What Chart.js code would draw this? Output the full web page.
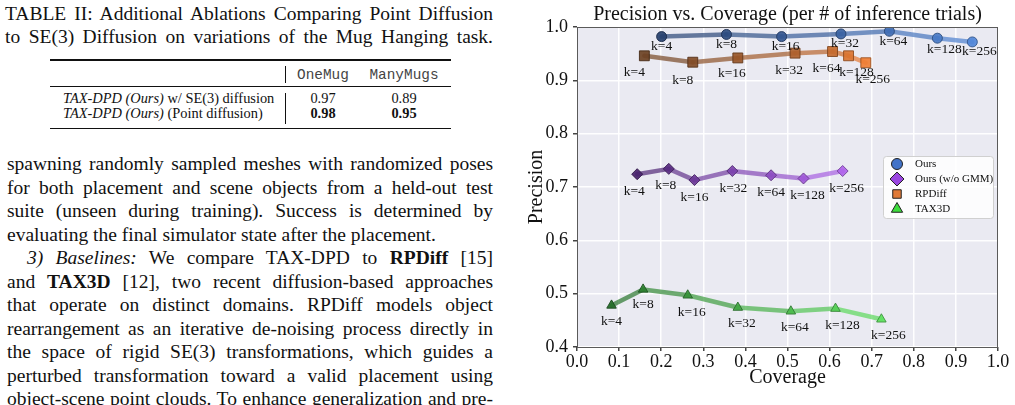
<!DOCTYPE html>
<html>
<head>
<meta charset="utf-8">
<script src="https://cdn.jsdelivr.net/npm/chart.js@4.4.1/dist/chart.umd.min.js"></script>
<style>
    html, body { margin: 0; padding: 0; background: #fff; }
    body { width: 1015px; height: 405px; overflow: hidden; position: relative;
           font-family: "Liberation Serif", "Times New Roman", serif; color: #111; }
    .abs { position: absolute; }
    .jl { text-align: justify; text-align-last: justify; white-space: nowrap; }
    .rule { position: absolute; background: #111; }
    .mono { font-family: "Liberation Mono", monospace; font-size: 14px; line-height: 16px; color: #444; }
    .cell { position: absolute; width: 80px; text-align: center; font-size: 14.4px; line-height: 16px; }
    .row { position: absolute; left: 63px; font-size: 14.4px; line-height: 16px; white-space: nowrap; }
    #prChart { position: absolute; left: 520px; top: 0; }
</style>
</head>
<body>

<div class="abs" style="left:5px; top:1.9px; width:488px; font-size:19.5px; line-height:23px;">
    <div class="jl">TABLE II: Additional Ablations Comparing Point Diffusion</div>
    <div class="jl">to SE(3) Diffusion on variations of the Mug Hanging task.</div>
</div>

<!-- table -->
<div class="rule" style="left:50px; top:59px; width:401px; height:1.5px;"></div>
<div class="rule" style="left:285px; top:66px; width:1px; height:17px;"></div>
<div class="cell mono" style="left:283px; top:67px;">OneMug</div>
<div class="cell mono" style="left:364px; top:67px;">ManyMugs</div>
<div class="rule" style="left:50px; top:85.5px; width:401px; height:1px;"></div>
<div class="rule" style="left:285px; top:93px; width:1px; height:31px;"></div>
<div class="row" style="top:90.4px;"><i>TAX-DPD (Ours)</i> w/ SE(3) diffusion</div>
<div class="cell" style="left:283px; top:90.4px;">0.97</div>
<div class="cell" style="left:364px; top:90.4px;">0.89</div>
<div class="row" style="top:105.4px;"><i>TAX-DPD (Ours)</i> (Point diffusion)</div>
<div class="cell" style="left:283px; top:105.4px;"><b>0.98</b></div>
<div class="cell" style="left:364px; top:105.4px;"><b>0.95</b></div>
<div class="rule" style="left:50px; top:127.5px; width:401px; height:1.5px;"></div>

<div class="abs" style="left:7px; top:152.4px; width:486px; font-size:19.5px; line-height:23.5px;">
    <div class="jl">spawning randomly sampled meshes with randomized poses</div>
    <div class="jl">for both placement and scene objects from a held-out test</div>
    <div class="jl">suite (unseen during training). Success is determined by</div>
    <div>evaluating the final simulator state after the placement.</div>
    <div class="jl" style="padding-left:20px;"><i>3) Baselines:</i> We compare TAX-DPD to <b>RPDiff</b> [15]</div>
    <div class="jl">and <b>TAX3D</b> [12], two recent diffusion-based approaches</div>
    <div class="jl">that operate on distinct domains. RPDiff models object</div>
    <div class="jl">rearrangement as an iterative de-noising process directly in</div>
    <div class="jl">the space of rigid SE(3) transformations, which guides a</div>
    <div class="jl">perturbed transformation toward a valid placement using</div>
    <div class="jl">object-scene point clouds. To enhance generalization and pre-</div>
</div>

<canvas id="prChart" width="495" height="405"></canvas>

<script>
// k = number of inference trials for each point
const kValues = [4, 8, 16, 32, 64, 128, 256];

const oursCoverage    = [0.201, 0.355, 0.486, 0.627, 0.742, 0.856, 0.939];
const oursPrecision   = [0.982, 0.986, 0.982, 0.987, 0.992, 0.979, 0.972];
const gmmCoverage     = [0.143, 0.218, 0.279, 0.369, 0.461, 0.538, 0.631];
const gmmPrecision    = [0.724, 0.734, 0.713, 0.730, 0.722, 0.716, 0.730];
const rpdiffCoverage  = [0.160, 0.275, 0.382, 0.518, 0.607, 0.645, 0.686];
const rpdiffPrecision = [0.946, 0.934, 0.942, 0.951, 0.954, 0.946, 0.933];
const tax3dCoverage   = [0.082, 0.157, 0.263, 0.382, 0.508, 0.614, 0.723];
const tax3dPrecision  = [0.478, 0.508, 0.497, 0.474, 0.467, 0.472, 0.452];

const seriesNames = ['Ours', 'Ours (w/o GMM)', 'RPDiff', 'TAX3D'];
const xTicks = [0.0, 0.1, 0.2, 0.3, 0.4, 0.5, 0.6, 0.7, 0.8, 0.9, 1.0];
const yTicks = [0.4, 0.5, 0.6, 0.7, 0.8, 0.9, 1.0];

// look of each series (dark -> light along k), legend swatch, label nudges in px
const styles = [
    { shape: 'circle',  radius: 5,   from: [38, 64, 110],  to: [80, 134, 216],  legend: '#4273c8', legendR: 5.5,
      labelOff: [[0, 10], [0, 10], [4, 10], [4, 10], [4, 10], [7, 11], [7, 10]] },
    { shape: 'rectRot', radius: 5.5, from: [72, 34, 108],  to: [176, 100, 236], legend: '#9a46e0', legendR: 7,
      labelOff: [[-3, 17], [-3, 17], [0, 17], [1, 17], [0, 17], [4, 17], [4, 17]] },
    { shape: 'rect',    radius: 7,   from: [108, 66, 36],  to: [240, 126, 52],  legend: '#e07a38', legendR: 6,
      labelOff: [[-10, 17], [-10, 18], [-6, 16], [-6, 17], [-6, 17], [8, 17], [7, 17]] },
    { shape: 'triangle', radius: 5.5, from: [36, 108, 40], to: [96, 226, 96],   legend: '#3ddc3d', legendR: 6.5,
      labelOff: [[0, 16], [0, 15], [4, 17], [4, 16], [4, 16], [7, 17], [7, 16]] }
];

const coverages = [oursCoverage, gmmCoverage, rpdiffCoverage, tax3dCoverage];
const precisions = [oursPrecision, gmmPrecision, rpdiffPrecision, tax3dPrecision];

function mix(a, b, t, alpha, k) {
    k = k || 1;
    const c = a.map((v, i) => Math.round((v + (b[i] - v) * t) * k));
    return 'rgba(' + c[0] + ',' + c[1] + ',' + c[2] + ',' + alpha + ')';
}

const datasets = seriesNames.map(function(name, s) {
    const st = styles[s];
    const n = kValues.length - 1;
    return {
        label: name,
        data: coverages[s].map((x, i) => ({ x: x, y: precisions[s][i] })),
        showLine: true,
        borderWidth: 4.5,
        borderCapStyle: 'round',
        borderJoinStyle: 'round',
        borderColor: mix(st.from, st.to, 0.5, 0.7),
        segment: {
            borderColor: ctx => mix(st.from, st.to, (ctx.p0DataIndex + 0.5) / n, 0.7)
        },
        pointStyle: st.shape,
        pointRadius: st.radius,
        pointHoverRadius: st.radius,
        pointBackgroundColor: kValues.map((k, i) => mix(st.from, st.to, i / n, 0.92)),
        pointBorderColor: kValues.map((k, i) => mix(st.from, st.to, i / n, 0.9, 0.65)),
        pointBorderWidth: 1
    };
});

const plotBackground = {
    id: 'plotBackground',
    beforeDraw(chart) {
        const { ctx, chartArea: a } = chart;
        ctx.save();
        ctx.fillStyle = '#eaeaf2';
        ctx.fillRect(a.left, a.top, a.right - a.left, a.bottom - a.top);
        ctx.restore();
    },
    afterDatasetsDraw(chart) {
        const { ctx, chartArea: a } = chart;
        ctx.save();
        ctx.strokeStyle = '#5a5a5a';
        ctx.lineWidth = 1;
        ctx.strokeRect(a.left + 0.5, a.top + 0.5, a.right - a.left - 1, a.bottom - a.top);
        ctx.restore();
    }
};

// "k=.." annotations and the legend box
const annotations = {
    id: 'annotations',
    afterDraw(chart) {
        const ctx = chart.ctx;
        ctx.save();
        ctx.font = '13.5px "Liberation Serif"';
        ctx.fillStyle = '#111';
        ctx.textAlign = 'center';
        ctx.textBaseline = 'middle';
        chart.data.datasets.forEach(function(ds, s) {
            const meta = chart.getDatasetMeta(s);
            meta.data.forEach(function(pt, i) {
                const off = styles[s].labelOff[i];
                ctx.fillText('k=' + kValues[i], pt.x + off[0], pt.y + off[1]);
            });
        });

        // legend
        const bx = 363, by = 156, bw = 110, bh = 62;
        ctx.fillStyle = 'rgba(255,255,255,0.85)';
        ctx.strokeStyle = '#d0d0d0';
        ctx.lineWidth = 1;
        ctx.beginPath();
        ctx.roundRect(bx + 0.5, by + 0.5, bw, bh, 3);
        ctx.fill();
        ctx.stroke();
        ctx.font = '11px "Liberation Serif"';
        ctx.textAlign = 'left';
        seriesNames.forEach(function(name, s) {
            const y = by + 8 + s * 15;
            ctx.fillStyle = styles[s].legend;
            ctx.strokeStyle = '#222';
            ctx.lineWidth = 1;
            Chart.helpers.drawPoint(ctx, {
                pointStyle: styles[s].shape, radius: styles[s].legendR, rotation: 0, borderWidth: 1
            }, bx + 14, y);
            ctx.fillStyle = '#111';
            ctx.fillText(name, bx + 32, y);
        });
        ctx.restore();
    }
};

Chart.defaults.font.family = '"Liberation Serif", "Times New Roman", serif';
Chart.defaults.color = '#111';

new Chart(document.getElementById('prChart'), {
    type: 'scatter',
    data: { datasets: datasets },
    options: {
        responsive: false,
        animation: false,
        layout: { padding: { top: 0, right: 17, bottom: 11, left: 0 } },
        plugins: {
            legend: { display: false },
            tooltip: { enabled: false },
            title: {
                display: true,
                fullSize: false,
                text: 'Precision vs. Coverage (per # of inference trials)',
                font: { size: 20, weight: 'normal' },
                color: '#111',
                padding: { top: 3, bottom: 0 }
            }
        },
        scales: {
            x: {
                type: 'linear',
                min: 0,
                max: 1,
                afterBuildTicks: s => { s.ticks = xTicks.map(v => ({ value: v })); },
                afterFit: s => { s.height = 47; },
                ticks: {
                    font: { size: 18 },
                    color: '#111',
                    padding: 0,
                    maxRotation: 0,
                    autoSkip: false,
                    callback: v => Number(v).toFixed(1)
                },
                grid: { color: 'rgba(255,255,255,0.95)', lineWidth: 1.5, tickColor: '#444', tickLength: 4 },
                border: { display: false },
                title: { display: true, text: 'Coverage', font: { size: 20 }, color: '#111', padding: { top: 0, bottom: 4 } }
            },
            y: {
                type: 'linear',
                min: 0.4,
                max: 1.0,
                afterBuildTicks: s => { s.ticks = yTicks.map(v => ({ value: v })); },
                afterFit: s => { s.width = 57; },
                ticks: {
                    font: { size: 18 },
                    color: '#111',
                    padding: 5,
                    autoSkip: false,
                    callback: v => Number(v).toFixed(1)
                },
                grid: { color: 'rgba(255,255,255,0.95)', lineWidth: 1.5, tickColor: '#444', tickLength: 4 },
                border: { display: false },
                title: { display: true, text: 'Precision', font: { size: 20 }, color: '#111', padding: { top: 5, bottom: 0 } }
            }
        }
    },
    plugins: [plotBackground, annotations]
});
</script>
</body>
</html>
